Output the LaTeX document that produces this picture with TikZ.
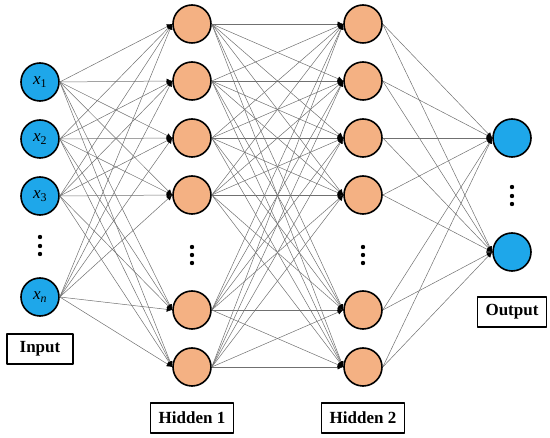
\documentclass[tikz,border=0pt]{standalone}
\usepackage{fontspec}
\setmainfont{Liberation Serif}
\usetikzlibrary{arrows.meta}
\definecolor{inblue}{HTML}{1EA7EA}
\definecolor{hidorange}{HTML}{F4B183}
\definecolor{wiregray}{HTML}{707070}

\begin{document}
\begin{tikzpicture}[x=1pt,y=-1pt,>={Latex[length=5.5pt,width=5pt,color=black]},line join=round,
  neuron/.style={circle,draw=black,line width=1.6pt,minimum size=38pt,inner sep=0pt,font=\fontsize{17}{17}\selectfont},
  inneuron/.style={neuron,fill=inblue},
  hidneuron/.style={neuron,fill=hidorange},
  layerbox/.style={draw=black,line width=1.1pt,fill=white,minimum height=30pt,minimum width=66pt,inner xsep=8pt,font=\fontsize{17}{20}\selectfont\bfseries},
  link/.style={wiregray,line width=0.5pt,->}]
  \useasboundingbox (0,0) rectangle (550,438);

  % Input layer
  \node[inneuron] (ia) at (40,82)  {\textit{x}\textsubscript{1}};
  \node[inneuron] (ib) at (40,139) {\textit{x}\textsubscript{2}};
  \node[inneuron] (ic) at (40,196) {\textit{x}\textsubscript{3}};
  \node[inneuron] (id) at (40,297) {\textit{x}\textsubscript{\textit{n}}};
  \foreach \y in {237,246,254} \fill (40,\y) circle (2.2pt);
  \node[layerbox] (inbox) at (40,349) {Input};

  % Hidden layers
  \foreach \n/\y in {a/24,b/81,c/138,d/195,e/310,f/367}{
    \node[hidneuron] (ha\n) at (192,\y) {};
    \node[hidneuron] (hb\n) at (363,\y) {};
  }
  \foreach \y in {247,255,263}{
    \fill (192,\y) circle (2.2pt);
    \fill (363,\y) circle (2.2pt);
  }
  \node[layerbox] (habox) at (192,418) {Hidden 1};
  \node[layerbox] (hbbox) at (363,418) {Hidden 2};

  % Output layer
  \node[inneuron] (oa) at (512,138) {};
  \node[inneuron] (ob) at (512,252) {};
  \foreach \y in {187,196,204} \fill (512,\y) circle (2.2pt);
  \node[layerbox] (outbox) at (512,312) {Output};

  % Connections
  \foreach \s in {ia,ib,ic,id}
    \foreach \t in {a,b,c,d,e,f}
      \draw[link] (\s.east) -- (ha\t.west);
  \foreach \s in {a,b,c,d,e,f}
    \foreach \t in {a,b,c,d,e,f}
      \draw[link] (ha\s.east) -- (hb\t.west);
  \foreach \s in {a,b,c,d,e,f}
    \foreach \t in {oa,ob}
      \draw[link] (hb\s.east) -- (\t.west);
\end{tikzpicture}
\end{document}
